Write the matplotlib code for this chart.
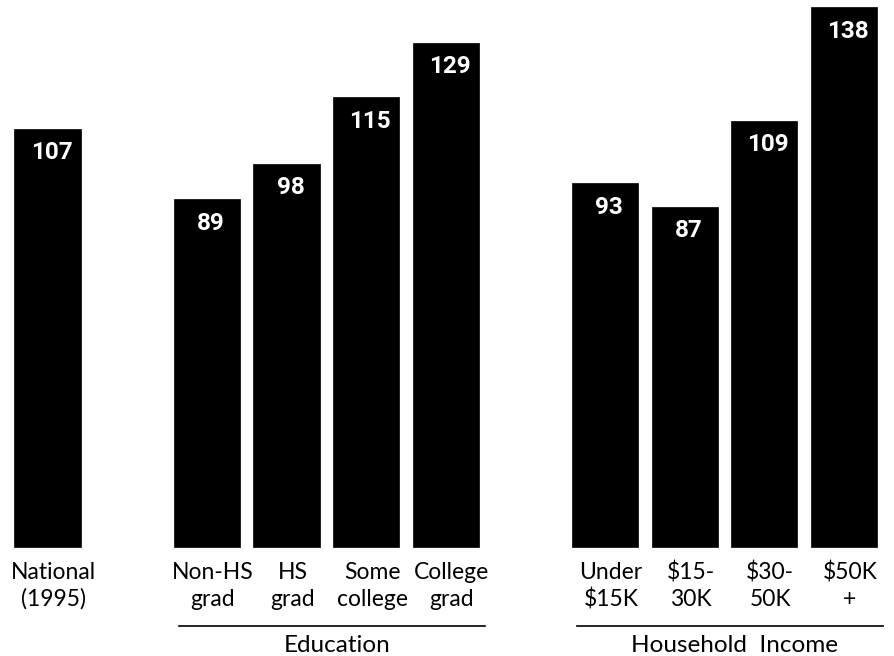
import matplotlib
matplotlib.use("Agg")
import matplotlib.pyplot as plt
import matplotlib.transforms as mtransforms
import numpy as np

# data
national_label = ["National\n(1995)"]
national_value = [107]

edu_labels = ["Non-HS\ngrad", "HS\ngrad", "Some\ncollege", "College\ngrad"]
edu_values = [89, 98, 115, 129]

inc_labels = ["Under\n$15K", "$15-\n30K", "$30-\n50K", "$50K\n+"]
inc_values = [93, 87, 109, 138]

group_names = ["Education", "Household  Income"]

# slot layout: national, gap, 4 education bars, gap, 4 income bars
pos_nat = np.array([0])
pos_edu = np.arange(2, 6)
pos_inc = np.arange(7, 11)

W, H = 894, 656
fig = plt.figure(figsize=(W / 100, H / 100), dpi=100)
ax = fig.add_axes([0, 0, 1, 1])

px_per_slot = 79.65
px_per_unit = 3.91
base_px = 547  # pixel row of the bar bottoms
ax.set_xlim(-47.5 / px_per_slot, (W - 47.5) / px_per_slot)
ax.set_ylim(-(H - base_px) / px_per_unit, base_px / px_per_unit)
ax.axis("off")

bar_w = 0.83
lab_font = ["Lato", "DejaVu Sans"]
num_font = ["Roboto", "DejaVu Sans"]
trans = mtransforms.blended_transform_factory(ax.transData, ax.transAxes)

def yfrac(py):
    return 1 - py / H

for pos, vals, labs in [(pos_nat, national_value, national_label),
                        (pos_edu, edu_values, edu_labels),
                        (pos_inc, inc_values, inc_labels)]:
    ax.bar(pos, vals, width=bar_w, color="black", edgecolor="black", linewidth=0.5)
    for x, v, lab in zip(pos, vals, labs):
        ax.annotate(str(v), (x + 0.05, v), xytext=(0, -24), textcoords="offset pixels",
                    ha="center", va="center", color="white", fontsize=17.5,
                    fontweight="bold", family=num_font)
        ax.text(x + 0.075, yfrac(586), lab, transform=trans, ha="center", va="center",
                multialignment="center", fontsize=16.5, family=lab_font, linespacing=1.3)

# group underlines and titles
for pos, name in [(pos_edu, group_names[0]), (pos_inc, group_names[1])]:
    x0 = pos[0] - bar_w / 2 + 0.06
    x1 = pos[-1] + bar_w / 2 + 0.08
    ax.plot([x0, x1], [yfrac(626), yfrac(626)], transform=trans, color="black", lw=1.2)
    ax.text((x0 + x1) / 2 + 0.06, yfrac(645), name, transform=trans, ha="center",
            va="center", fontsize=17.5, family=lab_font)

fig.savefig("out.png", dpi=100)
